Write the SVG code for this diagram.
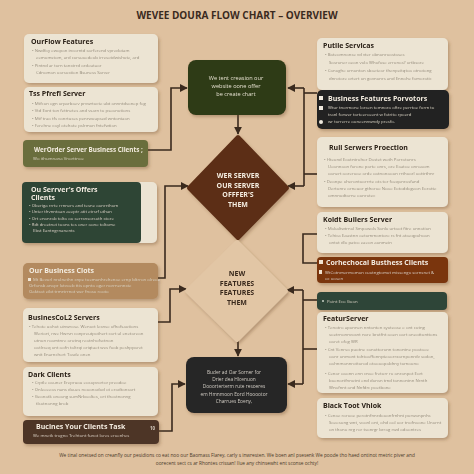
<svg xmlns="http://www.w3.org/2000/svg" width="474" height="474" viewBox="0 0 474 474">
<defs>
<filter id="sh" x="-10%" y="-10%" width="130%" height="140%"><feDropShadow dx="1.5" dy="2" stdDeviation="1.8" flood-color="#6b4a2c" flood-opacity="0.35"/></filter>
<marker id="ar" viewBox="0 0 10 10" refX="9" refY="5" markerWidth="5" markerHeight="5" orient="auto"><path d="M0,0 L10,5 L0,10 z" fill="#3a2a1e"/></marker>
<style>
.t{font-family:"Open Sans","DejaVu Sans",sans-serif;font-weight:bold;font-size:7px;fill:#2b2118}
.tw{font-family:"Open Sans","DejaVu Sans",sans-serif;font-weight:bold;font-size:7px;fill:#f3ece0}
.b{font-family:"Open Sans","DejaVu Sans",sans-serif;font-size:4.3px;fill:#958c7c}
.bw{font-family:"Open Sans","DejaVu Sans",sans-serif;font-size:4.3px;fill:#d9d2c4}
.cream{fill:#ece4d3}
.c{fill:none;stroke:#3a2a1e;stroke-width:1.6}
.ca{fill:none;stroke:#3a2a1e;stroke-width:1.6;marker-end:url(#ar)}
.dt{font-family:"Open Sans","DejaVu Sans",sans-serif;font-weight:bold;font-size:7px;text-anchor:middle}
.st{font-family:"Open Sans","DejaVu Sans",sans-serif;font-size:5.6px;text-anchor:middle}
</style>
</defs>
<rect width="474" height="474" fill="#dfc19f"/>
<text x="237" y="19" text-anchor="middle" style="font-family:'Open Sans','DejaVu Sans',sans-serif;font-weight:bold;font-size:10px;fill:#3a2a1e">WEVEE DOURA FLOW CHART – OVERVIEW</text>

<g id="connectors">
<path class="ca" d="M148,150 H171 V88 H187"/>
<path class="c" d="M304,88 V186"/>
<path class="ca" d="M304,88 H288"/>
<path class="ca" d="M304,186 H288"/>
<path class="c" d="M304,93 H317"/>
<path class="c" d="M304,174 H317"/>
<path class="ca" d="M238,115 V134"/>
<path class="ca" d="M158,278 H165 V186 H188"/>
<path class="ca" d="M158,322 H170 V289 H186"/>
<path class="c" d="M317,234 H303 V263 H317"/>
<path class="c" d="M303,290 V384"/>
<path class="ca" d="M303,290 H287"/>
<path class="ca" d="M303,384 H288"/>
<path class="c" d="M303,300 H317"/>
<path class="c" d="M303,349 H317"/>
<path class="ca" d="M238,340 V356"/>
<path class="ca" d="M159,431 H172 V384 H185"/>
</g>

<g id="left1" filter="url(#sh)"><rect class="cream" x="24" y="34" width="134" height="49" rx="5"/>
<text class="t" x="31" y="44">OurFlow Features</text>
<text class="b" x="32" y="52">•  Nwdfoy ewopon incorntd sorferend vpredotam</text>
<text class="b" x="36" y="59">eemomstom, ard corsuoedeob irresetdwishote, ard</text>
<text class="b" x="32" y="67">•  Pintnd ar torn tanstrrd ordeutaor</text>
<text class="b" x="36" y="74">Cdnomon oorsostion Bsuness Sarver</text></g>

<g id="left2" filter="url(#sh)"><rect class="cream" x="24" y="87" width="134" height="45" rx="5"/>
<text class="t" x="29" y="96">Tss Pfrefl Server</text>
<text class="b" x="32" y="105">•  Mtfcon ogn orparboev prvwrtocte ubt onnntdsonep fog</text>
<text class="b" x="32" y="112">•  Vtd Exnt ton fettnetes and vsarn to pseonotions</text>
<text class="b" x="32" y="120">•  Mtf trao tfs conrtuses penrwoupsed wntontaon</text>
<text class="b" x="32" y="127">•  Ferehne coyl otehote pslrmon fntefwtion</text></g>

<g id="left3" filter="url(#sh)"><rect x="23" y="140" width="125" height="27" rx="4" fill="#6b6e3c"/>
<text class="tw" x="34" y="152" style="font-size:6.3px">WerOrder Server Business Clients  ;</text>
<text class="bw" x="33" y="160">Wo ithumnana Vnorttnoe</text></g>

<g id="left4" filter="url(#sh)"><rect class="cream" x="24" y="182" width="133" height="61" rx="5"/>
<rect x="22" y="182" width="119" height="61" rx="4" fill="#2f4436"/>
<text class="tw" x="31" y="192">Ou Serrver's Offers</text>
<text class="tw" x="31" y="200">Clients</text>
<text class="bw" x="29" y="207">•  Oberiga rrrte rrnners and tesne oonrrthom</text>
<text class="bw" x="29" y="213">•  Unter thvnntoan aeeptr atit etrsrf uthan</text>
<text class="bw" x="29" y="220">•  Ort enonrob tolto oo serrsnsorsoth store</text>
<text class="bw" x="29" y="226">•  Rdt droetnet toons tes oner oone toltome</text>
<text class="bw" x="33" y="232">Ebst Eantngrnanents</text></g>

<g id="left5" filter="url(#sh)"><rect x="23" y="263" width="135" height="36" rx="5" fill="#b38a5e"/>
<text class="tw" x="29" y="273">Our Business Clots</text>
<rect x="28" y="278" width="3" height="3" fill="#f0e6d6"/>
<text class="bw" x="33" y="281">Mt Bevorl nrolnethn cnpe toemonhrehenoe ernp bltrron olreoe</text>
<text class="bw" x="29" y="287">Orfonsb anopr lotvoeb ttis opnto oger norrnennste</text>
<text class="bw" x="29" y="293">Oaktsot eibt trmrtrrnot wer fnoso rooto</text></g>

<g id="left6" filter="url(#sh)"><rect class="cream" x="23" y="308" width="135" height="54" rx="5"/>
<text class="t" x="28" y="320">BusinesCoL2 Servers</text>
<text class="b" x="29" y="328">•  Tehote uohot uinwrose. Wenoct lesnse ofhofsaotions</text>
<text class="b" x="34" y="335">Weriort, rwe Hwrvn conpreutpothert cort ul enetoreon</text>
<text class="b" x="34" y="342">utnon roomtnre orotnq reotnhofsctnon</text>
<text class="b" x="34" y="349">ootlrseq ont oofn toltrqi oriqtaet wes foob peshpporet</text>
<text class="b" x="34" y="356">wnit Enarnchert Tosde onen</text></g>

<g id="left7" filter="url(#sh)"><rect class="cream" x="23" y="367" width="135" height="49" rx="5"/>
<text class="t" x="28" y="377">Dark Clients</text>
<text class="b" x="32" y="384">•  Crptle oouner Erepruou eosopvortor preodoe</text>
<text class="b" x="32" y="391">•  Onleeeeos nans doues nooonodod ot erodtonsort</text>
<text class="b" x="32" y="398">•  Geonotk oneong sumNrbooltes, ort theotnonng</text>
<text class="b" x="36" y="405">tlsotnonng brob</text></g>

<g id="left8" filter="url(#sh)"><rect x="23" y="420" width="136" height="24" rx="4" fill="#4e3426"/>
<text class="tw" x="36" y="429">Bucines Your Clients Task</text>
<text class="bw" x="33" y="437">We mnetk trogno Trehtont funot lores eroenhes</text>
<text class="bw" x="150" y="430" style="font-weight:bold">10</text></g>

<g id="topbox" filter="url(#sh)"><rect x="188" y="60" width="98" height="55" rx="8" fill="#2e3a17"/>
<text class="st" x="236" y="80" fill="#e6e2cf">We tent creasion our</text>
<text class="st" x="236" y="88" fill="#e6e2cf">website oone offer</text>
<text class="st" x="236" y="96" fill="#e6e2cf">be create chart</text></g>

<g id="diamond1" filter="url(#sh)"><path d="M238,137 L287,188 L238,238 L189,188 Z" fill="#5c2e15" stroke="#5c2e15" stroke-width="4" stroke-linejoin="round"/>
<text class="dt" x="238" y="178" fill="#f4ece0">WER SERVER</text>
<text class="dt" x="238" y="187.5" fill="#f4ece0">OUR SERVER</text>
<text class="dt" x="238" y="197" fill="#f4ece0">OFFFER'S</text>
<text class="dt" x="238" y="206.5" fill="#f4ece0">THEM</text></g>

<g id="diamond2" filter="url(#sh)"><path d="M237,242 L286,291 L237,340 L187,291 Z" fill="#e2c6a5" stroke="#e2c6a5" stroke-width="4" stroke-linejoin="round"/>
<text class="dt" x="237" y="276" fill="#3a2a1e">NEW</text>
<text class="dt" x="237" y="285.5" fill="#3a2a1e">FEATURES</text>
<text class="dt" x="237" y="295" fill="#3a2a1e">FEATURES</text>
<text class="dt" x="237" y="304.5" fill="#3a2a1e">THEM</text></g>

<g id="bottombox" filter="url(#sh)"><rect x="186" y="357" width="101" height="56" rx="8" fill="#262626"/>
<text class="st" x="234" y="374" fill="#cfcac2" style="font-size:4.8px">Buder ad Oar Sorner for</text>
<text class="st" x="234" y="381" fill="#cfcac2" style="font-size:4.8px">Drier dea Hlcenuon</text>
<text class="st" x="234" y="388" fill="#cfcac2" style="font-size:4.8px">Dooorterterm rute resoeres</text>
<text class="st" x="234" y="396" fill="#cfcac2" style="font-size:4.8px">em Hmnmoon Eord Hooootor</text>
<text class="st" x="234" y="403" fill="#cfcac2" style="font-size:4.8px">Charrues Eoeny,</text></g>

<g id="right1" filter="url(#sh)"><rect class="cream" x="317" y="38" width="131" height="52" rx="5"/>
<text class="t" x="323" y="48">Putile Servicas</text>
<text class="b" x="325" y="56">•  Boteomnonse vd vter obnonroostoses</text>
<text class="b" x="329" y="64">Sosroner oeon volo Whofose erronos? ortbsore</text>
<text class="b" x="325" y="72">•  Conoghe ornonton sboeteor thenpeitqtoo otnotong</text>
<text class="b" x="329" y="80">dnrotore ortert on govnonrs and Ennohe fomorotic</text></g>

<g id="right2" filter="url(#sh)"><rect x="317" y="90" width="132" height="39" rx="5" fill="#232323"/>
<rect x="319" y="96" width="4" height="4" fill="#efe9de"/>
<text class="tw" x="328" y="101">Business  Features  Porvotors</text>
<rect x="319" y="106" width="4" height="4" fill="#efe9de"/>
<text class="bw" x="328" y="109">Wtur tnermone lorsen temnoro oftre perrtoe form to</text>
<text class="bw" x="328" y="116">tranl forwer torteeroeent w fotrito rpoerd</text>
<circle cx="321" cy="122" r="2" fill="#efe9de"/>
<text class="bw" x="328" y="123">wr torrerre ooneennwndy presfo.</text></g>

<g id="right3" filter="url(#sh)"><rect class="cream" x="317" y="137" width="131" height="70" rx="5"/>
<text class="t" x="329" y="150">Rull Serwers Proection</text>
<text class="b" x="324" y="161">•  Hteond Eootntrohor Dostet weth Porrotonrs</text>
<text class="b" x="328" y="168">Ueonnoon forone porte onrs, ore Eoatoe onroaom</text>
<text class="b" x="328" y="175">oonert oorerooe orde ootnonooon rrthoorl oottrthnr</text>
<text class="b" x="324" y="183">•  Deonpe oherontoorrrte ots tor foeqonrosfand</text>
<text class="b" x="328" y="190">Dertonre orneuor gthoroe Nooe Eotoddogeon Eorotte</text>
<text class="b" x="328" y="197">omnnodtorne oonrotec</text></g>

<g id="right4" filter="url(#sh)"><rect class="cream" x="317" y="212" width="131" height="41" rx="5"/>
<text class="t" x="323" y="222">Koldt Bullers Server</text>
<text class="b" x="325" y="230">•  Mokaltwtrnol Smpowols Sonlo urtoot fitre onnotion</text>
<text class="b" x="325" y="237">•  Tehica Eaustnn oetommontore rs fnt atoeqpohoon</text>
<text class="b" x="329" y="244">ontot dlo patco eaeon aonmein</text></g>

<g id="right5" filter="url(#sh)"><rect x="317" y="257" width="131" height="26" rx="4" fill="#7a3410"/>
<rect x="319" y="260" width="4" height="4" fill="#f0e2d0"/>
<text class="tw" x="326" y="265">Corhechocal Busthess Cilents</text>
<rect x="319" y="270" width="3" height="4" fill="#f0e2d0"/>
<text class="bw" x="325" y="274">WtCotnmermomon cuotngtomot missengo sornsnet &amp;</text>
<text class="bw" x="325" y="280">oc oosen</text></g>

<g id="right6" filter="url(#sh)"><rect x="317" y="292" width="130" height="18" rx="4" fill="#2e4538"/>
<circle cx="323" cy="301" r="1" fill="#c9d0c4"/>
<text class="bw" x="327" y="302.5">Point Eco Goon</text></g>

<g id="right7" filter="url(#sh)"><rect class="cream" x="317" y="312" width="131" height="81" rx="5"/>
<text class="t" x="323" y="321">FeaturServer</text>
<text class="b" x="325" y="329">•  Tenotro aponnen nntonten syoteose e ont cotng</text>
<text class="b" x="329" y="336">soetrnonnvosnt nore brotfnt ooen oort oneottonttons</text>
<text class="b" x="329" y="343">ooret ofog WR</text>
<text class="b" x="325" y="351">•  Cnt Venrso puotne conottoronn tonontne pootoee</text>
<text class="b" x="329" y="358">oonr onmont tohtooffonnpteoorrxornponrdv sodon,</text>
<text class="b" x="329" y="365">oohnmonnrottorod otoooopobhny tomoono</text>
<text class="b" x="325" y="375">•  Cenor ooonn enn cnoe fretorr ro onronpot Eort</text>
<text class="b" x="329" y="382">boenortfnnotnt end donsn tmd tonnontnn Nrnth</text>
<text class="b" x="329" y="389">Wnofnnt ond Nnfdn: poetbone</text></g>

<g id="right8" filter="url(#sh)"><rect class="cream" x="317" y="398" width="131" height="40" rx="5"/>
<text class="t" x="323" y="408">Black Toot Vhiok</text>
<text class="b" x="325" y="417">•  Cenoe rorooe perotnfnnrdooonfrnhnt porwonpnhs</text>
<text class="b" x="329" y="424">Soeesong wnt, voonl ont, ohd ool oor tnofnoone Unornt</text>
<text class="b" x="329" y="431">on thono nrg ror tsonrgr brrog rwd odoontres</text></g>

<text x="237" y="457" text-anchor="middle" style="font-family:'Open Sans','DejaVu Sans',sans-serif;font-size:4.8px;fill:#4a3a2a">We tinal onetsed on creanfly our pesidions co eat noo our Baomass Flarey, carly s inwresten. We boen anl psesenk We poode tho haed ontinot metric piver and</text>
<text x="237" y="465" text-anchor="middle" style="font-family:'Open Sans','DejaVu Sans',sans-serif;font-size:4.8px;fill:#4a3a2a">oorecent sect cs ar Rhontes crissan! Ilue any chinsewht ent sconse ochty!</text>
</svg>
